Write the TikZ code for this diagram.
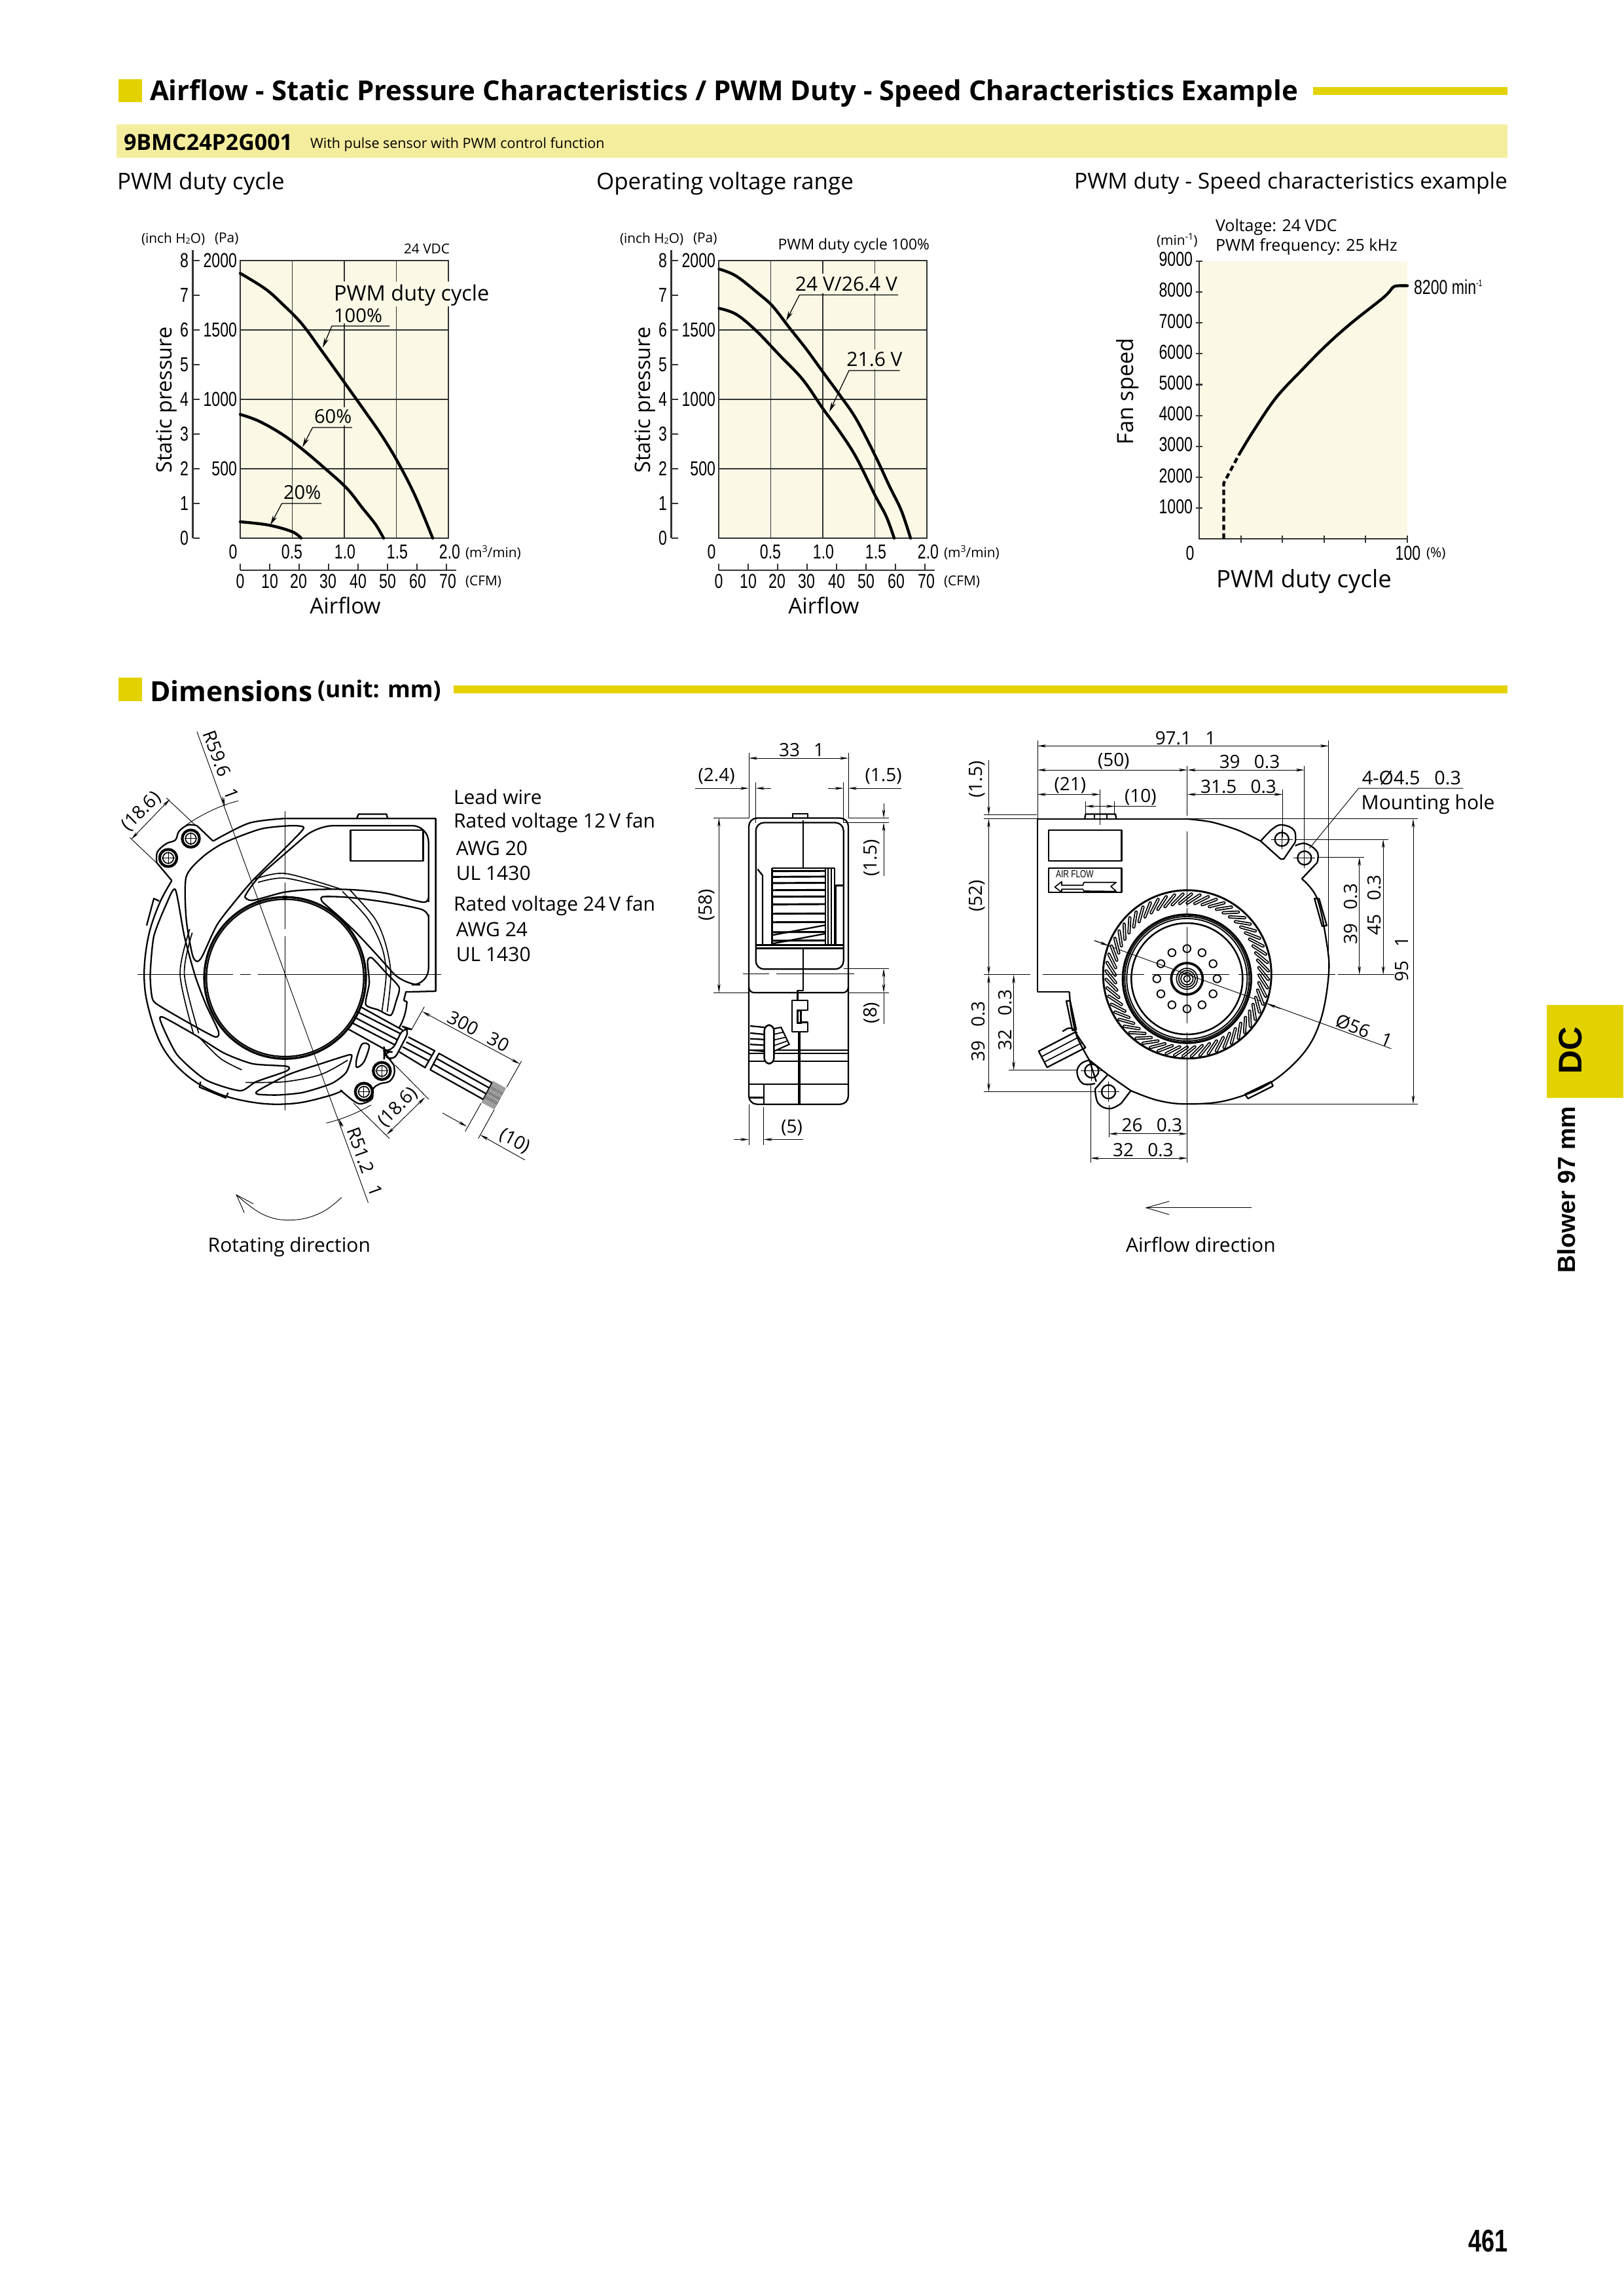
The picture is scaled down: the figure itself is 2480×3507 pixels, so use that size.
\documentclass[tikz,border=0pt]{standalone}
\usepackage{fontspec}
\usepackage{graphicx}
\usetikzlibrary{arrows.meta}
\setmainfont{Open Sans}
\newfontfamily\cond[FakeStretch=0.75]{Liberation Sans}
\newfontfamily\hb{Liberation Sans}
\definecolor{yel}{HTML}{E3D200}
\definecolor{band}{HTML}{F5ED9E}
\definecolor{cream}{HTML}{FBF9E6}
\definecolor{grid}{HTML}{333333}
\newcounter{tn}
\newcommand\lb[3][]{\stepcounter{tn}\node[txt,#1] (t\arabic{tn}) at (#2) {#3};}
\newcommand\sz[1]{\fontsize{#1}{#1}\selectfont}
\newcommand\up[1]{\raisebox{0.7ex}{\sz{3.4}#1}}
\newcommand\dn[1]{\raisebox{-0.1ex}{\sz{3}#1}}
\tikzset{
 txt/.style={inner sep=0pt,outer sep=0pt},
 num/.style={font=\cond\sz{7.4}},
 small/.style={font=\sz{5}},
 lab/.style={font=\sz{7.8}},
 pct/.style={font=\sz{7}},
 dimt/.style={font=\sz{6.7},xshift=.3pt,yshift=-.4pt},
 note/.style={font=\sz{7.2}},
 sub/.style={font=\sz{8.4},anchor=west},
 gridl/.style={draw=grid,line width=0.3pt},
 axisl/.style={draw=grid,line width=0.5pt},
 crv/.style={line width=1.05pt,line cap=round},
 ldr/.style={line width=0.3pt,-{Stealth[length=3.6pt,width=1.7pt]}},
 dl/.style={line width=0.22pt,{Stealth[length=3.2pt,width=1.1pt]}-{Stealth[length=3.2pt,width=1.1pt]}},
 dr/.style={line width=0.22pt,-{Stealth[length=3.2pt,width=1.1pt]}},
 ex/.style={line width=0.22pt},
 ol/.style={line width=0.55pt,line join=round},
 olt/.style={line width=0.4pt,line join=round},
 olb/.style={line width=0.8pt,line join=round},
 cl/.style={line width=0.22pt},
}
\newcommand\pqchart{%
 \fill[cream] (367,398) rectangle (685,822);
 \foreach \xx in {446.5,526,605.5}{\draw[gridl] (\xx,398) -- (\xx,822);}
 \foreach \yy in {504,610,716}{\draw[gridl] (367,\yy) -- (685,\yy);}
 \draw[axisl] (367,398) rectangle (685,822);
 \draw[axisl] (294.5,382) -- (294.5,822);
 \foreach \i in {0,...,8}{\draw[axisl] (294.5,{822-53*\i}) -- (304.5,{822-53*\i});
   \lb[num,anchor=east]{288,{822-53*\i}}{\i}}
 \lb[num,anchor=east]{362,398}{2000}
 \lb[num,anchor=east]{362,504}{1500}
 \lb[num,anchor=east]{362,610}{1000}
 \lb[num,anchor=east]{362,716}{500}
 \lb[lab,rotate=90]{254,611}{Static pressure}
 \lb[small,anchor=west]{216,365}{(inch H\dn{2}O)}
 \lb[small,anchor=west]{328,365}{(Pa)}
 \lb[num]{356,843}{0}\lb[num]{446,843}{0.5}\lb[num]{527,843}{1.0}\lb[num]{607,843}{1.5}\lb[num]{687,843}{2.0}
 \lb[small,anchor=west]{711,844}{(m\up{3}/min)}
 \draw[axisl] (367,871) -- (697,871);
 \foreach \i/\l/\c in {0/0/367,1/10/412,2/20/456,3/30/501,4/40/547,5/50/592,6/60/638,7/70/684}{
   \draw[axisl] ({367+45*\i},871) -- ({367+45*\i},861);
   \lb[num]{\c,888}{\l}}
 \lb[small,anchor=west]{711,889}{(CFM)}
 \lb[font=\sz{8}]{527.5,925}{Airflow}
}
\begin{document}
\begin{tikzpicture}[x=0.24pt,y=-0.24pt]
\useasboundingbox (0,0) rectangle (2480,3507);
\fill[white] (0,0) rectangle (2480,3507);
% headings
\fill[yel] (181,121) rectangle (217,156);
\lb[anchor=west,font=\bfseries]{229,143}{\resizebox{421pt}{!}{Airflow - Static Pressure Characteristics / PWM Duty - Speed Characteristics Example}}
\fill[yel] (2006,133) rectangle (2303,145);
\fill[band] (178,190) rectangle (2303,241);
\lb[anchor=west,font=\bfseries\sz{8.15}]{189,217}{9BMC24P2G001}
\lb[anchor=west,font=\sz{5.15}]{474,221}{With pulse sensor with PWM control function}
\lb[sub]{179,280}{PWM duty cycle}
\lb[sub]{911,280}{Operating voltage range}
\lb[sub,font=\sz{8.07},anchor=east]{2303,280}{PWM duty - Speed characteristics example}
% chart 1
\pqchart
\fill[cream] (508,430) rectangle (687,468);
\fill[cream] (508,468) rectangle (586,494);
\fill[cream] (482,622) rectangle (536,650);
\lb[small,anchor=east]{687,380}{24 VDC}
\lb[lab,anchor=west]{510,451}{PWM duty cycle}
\lb[pct,anchor=west]{510,482}{100\%}
\lb[pct,anchor=west]{480,636}{60\%}
\lb[pct,anchor=west]{433,752}{20\%}
\draw[crv] plot[smooth,tension=.6] coordinates {(367,417.5)(405,441)(430.6,463.6)(461,494.5)(492,536.6)(526,584)(558,629)(583.7,666)(609,708)(634.7,758.5)(661,822)};
\draw[crv] plot[smooth,tension=.6] coordinates {(367,633)(395,643)(430.6,663)(461,685.5)(497,716)(530,746)(553,775)(573.5,800.7)(586,822)};
\draw[crv] plot[smooth,tension=.6] coordinates {(367,797)(410,802)(446,812)(460,822)};
\draw[ldr] (595,498) -- (507,498) -- (493,531);
\draw[ldr] (538,653) -- (477.5,653) -- (462,683);
\draw[ldr] (491,769) -- (430.6,769) -- (413,802);
% chart 2
\begin{scope}[shift={(731,0)}]
\pqchart
\end{scope}
\lb[font=\sz{5.5},anchor=east]{1420,376}{PWM duty cycle 100\%}
\fill[cream] (1216,418) rectangle (1370,448);
\fill[cream] (1293,534) rectangle (1380,564);
\lb[font=\sz{7.2}]{1293,434}{24 V/26.4 V}
\lb[font=\sz{7.2}]{1336,549}{21.6 V}
\draw[crv] plot[smooth,tension=.6] coordinates {(1098.5,411)(1124.5,421.6)(1160,449.5)(1180.6,468)(1206,500.7)(1231.6,533)(1257,568)(1282.6,603)(1308,640)(1337,696)(1359,743)(1377,780)(1391,822)};
\draw[crv] plot[smooth,tension=.6] coordinates {(1098.5,471)(1124.5,480)(1155,505)(1191,542.6)(1226.5,580)(1257,624)(1282.6,659)(1308,698.6)(1337,757)(1354,789)(1366,822)};
\draw[ldr] (1372,450.4) -- (1221.4,450.4) -- (1201,490);
\draw[ldr] (1374.5,566) -- (1297,566) -- (1267,629);
% chart 3
\fill[cream] (1832,398.7) rectangle (2150,822);
\draw[axisl] (1832,398.7) -- (1832,823) -- (2150,823);
\foreach \i/\l in {0/9000,1/8000,2/7000,3/6000,4/5000,5/4000,6/3000,7/2000,8/1000}{
  \draw[axisl] (1827,{398.7+47.2*\i}) -- (1837,{398.7+47.2*\i});
  \lb[num,anchor=east]{1822,{396+47.2*\i}}{\l}}
\foreach \xx in {1896,1959,2023,2086,2150}{\draw[axisl] (\xx,818) -- (\xx,829);}
\lb[small,anchor=west]{1767,367}{(min\up{-1})}
\lb[font=\sz{6},anchor=west]{1857,347}{Voltage: 24 VDC}
\lb[font=\sz{6},anchor=west]{1857,377}{PWM frequency: 25 kHz}
\lb[font=\sz{8.2},rotate=90]{1723,598}{Fan speed}
\lb[num]{1818,845}{0}\lb[num]{2151,845}{100}
\lb[small,anchor=west]{2179,846}{(\%)}
\lb[font=\sz{8.8}]{1992,888}{PWM duty cycle}
\lb[num,anchor=west]{2160,438}{8200 min\up{-1}}
\draw[crv] plot[smooth,tension=.6] coordinates {(1893,694)(1915,658)(1949,608)(1988,566)(2026.6,527)(2065,493)(2114,454)(2128,439)(2136,436.5)(2150,436.5)};
\draw[crv,line cap=butt,dash pattern=on 2pt off 1.2pt] (1869.5,823) -- (1869.5,738) -- (1893,694);
% dimensions header
\fill[yel] (181,1035) rectangle (217,1071);
\lb[anchor=west,font=\bfseries\sz{10.2}]{229,1056}{Dimensions}
\lb[anchor=west,font=\bfseries\sz{8.5}]{485,1055}{(unit: mm)}
\fill[yel] (693,1047) rectangle (2303,1059);
% side tab
\fill[yel] (2363,1535) rectangle (2480,1677);
\lb[font=\hb\bfseries\sz{12},rotate=90]{2399,1604}{DC}
\lb[font=\hb\bfseries\sz{9},rotate=90]{2393,1817}{Blower 97 mm}
\lb[font=\cond\bfseries\sz{11.5},anchor=east]{2303,3423}{461}

% ---------- left view ----------
\begin{scope}[shift={(150,1090)},x=0.13165pt,y=-0.13165pt]
 \draw[ol] (520,292) -- (940,292) -- (940,773) -- (857,775) -- (851,799);
 \draw[ol] (860,802) .. controls (858,830) and (850,855) .. (838,875);
 \draw[ol] (851,799) -- (860,802);
 \draw[ol] plot[smooth,tension=.5] coordinates {(520,292)(420,305)(320,355)};
 \draw[ol] (320,355) -- (275,312);
 \draw[ol] plot[smooth,tension=.6] coordinates {(275,312)(250,310)(225,328)(215,352)(190,362)(165,385)(163,415)};
 \draw[ol] (163,415) -- (205,465);
 \draw[ol] plot[smooth,tension=.6] coordinates {(205,465)(170,530)(140,620)(128,726)(140,820)(180,930)(250,1010)(340,1060)(450,1085)(550,1085)(640,1065)(680,1050)};
 % tabs
 \draw[ol] (720,292) -- (725,280) -- (803,280) -- (806,292);
 \draw[ol] (135,590) -- (155,515) -- (170,522);
 \draw[ol] (285,1025) -- (282,1040) -- (355,1070) -- (362,1056);
 % windows
 \draw[ol] plot[smooth cycle,tension=.45] coordinates {(245,455)(290,400)(350,360)(450,322)(520,313)(560,313)(570,323)(500,395)(430,465)(375,530)(330,590)(290,675)(275,690)(262,670)(245,570)};
 \draw[ol,rounded corners=6pt] (408,510) -- (430,468) -- (610,312) -- (920,312) -- (920,525);
 \draw[ol] plot[smooth,tension=.5] coordinates {(920,510)(905,525)(800,500)(700,490)(600,490)(520,497)(430,520)(408,510)};
 \draw[ol] (703,325) rectangle (905,410);
 \draw[ol,rounded corners=6pt] (920,560) -- (920,755) -- (850,755) -- (775,670) -- (700,590) -- (625,525);
 \draw[ol] plot[smooth,tension=.5] coordinates {(625,525)(625,510)(700,512)(800,525)(900,545)(920,565)};
 \draw[ol] plot[smooth cycle,tension=.4] coordinates {(750,690)(762,680)(800,720)(838,762)(830,800)(815,840)(780,825)(745,810)(755,750)};
 \draw[ol] plot[smooth cycle,tension=.4] coordinates {(215,490)(240,620)(270,730)(300,810)(335,885)(325,900)(250,860)(165,810)(150,790)(145,726)(155,620)(190,530)};
 \draw[ol] plot[smooth cycle,tension=.4] coordinates {(180,845)(270,895)(350,945)(430,975)(525,982)(525,995)(440,1025)(395,1050)(300,1020)(220,950)(175,860)};
 \draw[ol] plot[smooth cycle,tension=.4] coordinates {(445,1050)(530,1005)(620,975)(700,950)(705,960)(690,1000)(650,1030)(570,1055)(500,1062)(445,1060)};
 \draw[ol] plot[smooth cycle,tension=.5] coordinates {(735,920)(755,925)(740,970)(720,985)(720,960)};
 % inner ring arcs
 \draw[olt] plot[smooth,tension=.5] coordinates {(430,463)(520,445)(680,490)};
 \draw[olt] plot[smooth,tension=.5] coordinates {(445,470)(520,458)(650,488)};
 \draw[olt] plot[smooth,tension=.5] coordinates {(700,490)(770,570)(800,640)(815,725)(805,830)};
 \draw[olt] plot[smooth,tension=.5] coordinates {(680,495)(750,570)(790,650)(802,725)(790,830)};
 \draw[olt] plot[smooth,tension=.5] coordinates {(255,600)(228,726)(265,890)};
 \draw[olt] plot[smooth,tension=.5] coordinates {(262,610)(240,726)(280,890)};
 \draw[olt] plot[smooth,tension=.5] coordinates {(280,900)(340,960)(400,992)};
 \draw[olt] plot[smooth,tension=.5] coordinates {(410,1027)(520,1025)(620,1005)(695,965)};
 % hub
 \draw[olb] (520.5,736) circle [radius=225];
 \draw[ol] (520.5,736) circle [radius=219];
 \draw[olt] (516,508) rectangle (524,515);
 % holes
 \foreach \hx/\hy in {258/348,195/402,790/995,740/1053}{
   \draw[olb,line width=1pt] (\hx,\hy) circle [radius=24];
   \draw[olt] (\hx,\hy) circle [radius=15];
   \draw[cl] (\hx-18,\hy) -- (\hx+18,\hy) (\hx,\hy-18) -- (\hx,\hy+18);}
 % centre lines
 \draw[cl] (110,726) -- (375,726) (395,726) -- (425,726) (445,726) -- (955,726);
 \draw[cl] (520,272) -- (520,450) (520,470) -- (520,505) (520,520) -- (520,600) (520,620) -- (520,1105);
 % dims
 \draw[ex] (275,50) -- (752,1362);
 \draw[ex] (245,310) .. controls (290,280) and (340,255) .. (390,243);
 \draw[ex] (635,1140) .. controls (680,1130) and (725,1110) .. (760,1090);
 \draw[dr] (346,232) -- (353,258);
 \draw[dr] (680,1150) -- (670,1128);
 \draw[ex] (165,418) -- (88,345) (270,310) -- (190,235);
 \draw[dl] (92,350) -- (200,238);
 \lb[dimt,rotate=45]{118,270}{(18.6)}
 \lb[dimt,rotate=-70]{340,140}{R59.6\enspace\ 1}
 \lb[dimt,rotate=-70]{740,1245}{R51.2\enspace\ 1}
 \lb[note,anchor=west]{990,232}{Lead wire}
 \lb[note,anchor=west]{990,304}{Rated voltage 12\,V fan}
 \lb[note,anchor=west]{997,375}{AWG 20}
 \lb[note,anchor=west]{997,445}{UL 1430}
 \lb[note,anchor=west]{990,535}{Rated voltage 24\,V fan}
 \lb[note,anchor=west]{997,602}{AWG 24}
 \lb[note,anchor=west]{997,670}{UL 1430}
 \lb[note]{532,1486}{Rotating direction}
 \draw[ex] plot[smooth,tension=.7] coordinates {(678,1347)(620,1390)(540,1410)(460,1395)(385,1340)};
 \draw[ex] (432,1365) -- (385,1340) -- (407,1390);
\end{scope}
% wires, from close-up coordinates
\begin{scope}[shift={(520,1490)},x=0.08pt,y=-0.08pt]
 \draw[ol] (95,145) -- (285,250) (75,165) -- (278,268) (62,190) -- (262,295) (50,215) -- (250,318) (35,245) -- (228,352);
 \draw[ol,rounded corners=3pt] (290,235) -- (320,245) -- (242,395) -- (200,365) -- (200,345) -- (235,350) -- cycle;
 \draw[ol] (200,350) -- (245,410);
 \draw[ol] plot[smooth,tension=.6] coordinates {(245,410)(247,450)(225,485)(180,497)(150,520)(145,565)(100,587)(65,578)(0,525)};
 \draw[ol] (312,282) -- (432,345) -- (388,422) -- (270,350);
 \draw[ol] (302,305) -- (420,367) (285,327) -- (407,392);
 \draw[ol] (452,357) -- (695,492) -- (655,568) -- (412,432) -- cycle;
 \draw[ol] (440,380) -- (682,515) (427,407) -- (668,542);
 \foreach \sx/\sy/\ex/\ey in {692/500/750/532,680/522/738/555,668/545/728/578,656/566/716/598}{
   \draw[line width=3pt,draw=black!65,dash pattern=on 0.25pt off 0.25pt] (\sx,\sy) -- (\ex,\ey);}
 \draw[ex] (325,250) -- (385,143) (762,512) -- (830,392);
 \draw[dl] (375,165) -- (822,405);
 \lb[dimt,rotate=-28]{630,250}{300\enspace\ 30}
 \draw[ex] (60,585) -- (225,747) (250,410) -- (405,567);
 \draw[dl] (212,730) -- (388,558);
 \lb[dimt,rotate=45]{260,600}{(18.6)}
 \draw[ex] (645,585) -- (572,715) (705,615) -- (632,747);
 \draw[dr] (468,630) -- (580,692);
 \draw[dr] (845,845) -- (640,730);
 \lb[dimt,rotate=-28]{795,755}{(10)}
\end{scope}

% ---------- side view ----------
\begin{scope}[shift={(1020,1090)},x=0.08pt,y=-0.10408pt]
 \draw[ol,rounded corners=3pt] (372,368) rectangle (828,1376);
 \draw[ol,rounded corners=3pt] (404,384) rectangle (806,900);
 \draw[ol,rounded corners=2pt] (372,970) -- (372,983) -- (828,983) -- (828,970);
 \draw[ol] (572,368) -- (572,352) -- (642,352) -- (642,368);
 \draw[ol] (620,375) -- (620,545) (620,825) -- (620,975) -- (595,975) -- (595,1010);
 \draw[ol] (595,1120) -- (605,1120);
 \draw[line width=0.9pt] (603,1120) -- (603,1376);
 \draw[ol] (412,548) -- (435,570) -- (435,815);
 \draw[ol] (806,605) -- (770,605) -- (770,815);
 \draw[ol] (404,815) -- (806,815) (404,827) -- (806,827);
 \draw[ol] (478,545) -- (764,545) -- (764,815);
 \draw[ol] (722,545) -- (722,815) (735,545) -- (735,815) (750,545) -- (750,815);
 \draw[ol] (478,545) -- (478,815);
 \foreach \yy in {555,575,597,622,645,672,705,735,770,800}{
  \draw[line width=0.7pt] (478,\yy) -- (722,\yy-1);}
 \draw[ol] (482,780) -- (722,745) (482,810) -- (722,775);
 % clip
 \draw[ol] (570,1010) -- (642,1010) -- (642,1045) -- (610,1045) -- (610,1087) -- (642,1087) -- (642,1120) -- (570,1120) -- cycle;
 \draw[line width=0.8pt] (595,1045) rectangle (610,1090);
 % cable
 \draw[ol] (372,1185) -- (828,1185) (372,1197) -- (828,1197) (372,1225) -- (828,1225) (372,1305) -- (828,1305);
 \draw[ol] (440,1305) -- (440,1376);
 \draw[line width=0.8pt] (375,1353) -- (440,1353);
 \fill[white,draw=black,line width=0.5pt] (485,1110) -- (520,1105) -- (557,1165) -- (485,1190) -- cycle;
 \draw[olt] (485,1130) -- (530,1122) (485,1150) -- (540,1140) (485,1170) -- (548,1153);
 \draw[ol] (378,1100) -- (443,1105) (378,1125) -- (443,1130) (378,1145) -- (443,1148) (378,1165) -- (443,1168) (378,1185) -- (443,1190);
 \fill[white,draw=black,line width=0.6pt,rounded corners=2pt] (443,1097) rectangle (487,1233);
 \draw[cl] (345,917) -- (465,917) (497,917) -- (855,917);
 % dims
 \draw[ex] (372,138) -- (372,368) (828,138) -- (828,368);
 \draw[dl] (372,157) -- (828,157);
 \lb[dimt]{610,125}{33\enspace\ 1}
 \draw[ex] (404,243) -- (404,384) (806,243) -- (806,384);
 \draw[dr] (127,263) -- (372,263);
 \draw[dr] (473,263) -- (404,263);
 \draw[dr] (735,263) -- (806,263);
 \draw[dr] (1070,263) -- (828,263);
 \lb[dimt]{220,217}{(2.4)}
 \lb[dimt]{985,217}{(1.5)}
 \draw[ex] (828,368) -- (1015,368) (806,384) -- (1015,384);
 \draw[dr] (990,317) -- (990,368);
 \draw[dr] (990,572) -- (990,384);
 \lb[dimt,rotate=90]{930,505}{(1.5)}
 \draw[ex] (806,898) -- (1015,898) (828,983) -- (1015,983);
 \draw[dl] (990,898) -- (990,983);
 \draw[ex] (990,983) -- (990,1093);
 \lb[dimt,rotate=90]{930,1050}{(8)}
 \draw[ex] (210,368) -- (372,368) (210,983) -- (372,983);
 \draw[dl] (235,368) -- (235,983);
 \lb[dimt,rotate=90]{175,670}{(58)}
 \draw[ex] (372,1376) -- (372,1520) (440,1385) -- (440,1520);
 \draw[dr] (303,1500) -- (372,1500);
 \draw[dr] (620,1500) -- (440,1500);
 \lb[dimt]{565,1455}{(5)}
\end{scope}

% ---------- front view ----------
\begin{scope}[shift={(1440,1090)},x=0.14085pt,y=-0.13165pt]
 \draw[ol] (330,775) -- (247,775) -- (247,293) -- (635,293);
 \draw[ol] plot[smooth,tension=.5] coordinates {(635,293)(700,302)(770,325)(828,355)};
 \draw[ol] (828,355) -- (880,405) -- (888,405) -- (918,358);
 \draw[ol] plot[smooth,tension=.7] coordinates {(828,355)(860,320)(885,310)(915,325)(918,358)};
 \draw[ol] plot[smooth,tension=.7] coordinates {(918,368)(945,362)(975,385)(975,415)};
 \draw[ol] (975,415) -- (935,460);
 \draw[ol] plot[smooth,tension=.6] coordinates {(935,460)(975,515)(1000,640)(1005,726)(985,850)(940,945)(850,1030)(740,1077)(635,1087)(560,1077)(490,1050)};
 \draw[ol] (490,1050) -- (465,1085);
 \draw[ol] plot[smooth,tension=.7] coordinates {(465,1085)(435,1100)(405,1085)(397,1045)};
 \draw[ol] (397,1045) -- (430,1005) -- (490,1050);
 \draw[ol] plot[smooth,tension=.7] coordinates {(397,1030)(365,1030)(350,1000)(360,975)(382,965)};
 \draw[ol] (382,965) -- (400,1025) (382,965) -- (430,1005);
 \draw[ol] plot[smooth,tension=.5] coordinates {(330,775)(335,830)(350,900)(382,965)};
 % tabs
 \draw[ol] (370,293) -- (372,280) -- (450,280) -- (452,293);
 \draw[olt] (395,280) -- (395,293) (428,280) -- (428,293);
 \draw[ol] (322,800) -- (332,800) -- (348,880) -- (338,882) -- cycle;
 \draw[ol] (968,515) -- (980,515) -- (1000,590) -- (988,592) -- cycle;
 \draw[ol] (787,1060) -- (855,1025) -- (860,1037) -- (795,1072) -- cycle;
 % wires
 \draw[ol] (250,940) -- (345,887) -- (372,930) -- (272,985) -- cycle;
 \draw[olt] (258,955) -- (352,902) (265,970) -- (362,917);
 \draw[ol,rounded corners=2pt] (312,885) -- (335,870) -- (350,890);
 % labels
 \draw[ol] (276,325) rectangle (466,410);
 \draw[ol] (276,430) rectangle (466,498);
 \lb[font=\cond\sz{3.8}]{344,447}{AIR FLOW}
 \draw[olt] (292,483) -- (310,468) -- (310,478) -- (365,478) -- (368,470) -- (452,470) -- (438,481) -- (452,495) -- (368,494) -- (365,489) -- (310,489) -- (310,497) -- cycle;
 % mount holes
 \foreach \hx/\hy in {883/350,942/402,388/995,432/1053}{
  \draw[ol] (\hx,\hy) ellipse [x radius=18,y radius=19];
  \draw[cl] (\hx-28,\hy) -- (\hx+28,\hy) (\hx,\hy-28) -- (\hx,\hy+28);}
 % dims
 \draw[ex] (247,75) -- (247,293) (1005,75) -- (1005,726);
 \draw[dl] (247,90) -- (1005,90);
 \lb[dimt]{630,65}{97.1\enspace\ 1}
 \draw[dl] (247,157) -- (637,157);
 \lb[dimt]{443,130}{(50)}
 \draw[dl] (637,157) -- (942,157);
 \draw[ex] (942,145) -- (942,425) (637,145) -- (637,275);
 \lb[dimt]{797,132}{39\enspace\ 0.3}
 \draw[dl] (637,225) -- (885,225);
 \draw[ex] (885,212) -- (885,345);
 \lb[dimt]{768,200}{31.5\enspace\ 0.3}
 \draw[dl] (247,225) -- (410,225);
 \draw[ex] (410,212) -- (410,310);
 \lb[dimt]{330,197}{(21)}
 \draw[ex] (372,245) -- (372,282) (448,245) -- (448,282);
 \draw[dl] (372,258) -- (448,258);
 \draw[ex] (448,258) -- (555,258);
 \lb[dimt]{513,230}{(10)}
 % left
 \draw[ex] (107,282) -- (245,282) (107,293) -- (247,293);
 \draw[dr] (120,130) -- (120,282);
 \lb[dimt,rotate=90]{88,180}{(1.5)}
 \draw[dl] (120,293) -- (120,727);
 \lb[dimt,rotate=90]{88,505}{(52)}
 \draw[dl] (120,727) -- (120,1053);
 \draw[ex] (107,1053) -- (400,1053);
 \lb[dimt,rotate=90]{90,882}{39\enspace\ 0.3}
 \draw[dl] (185,727) -- (185,993);
 \draw[ex] (172,993) -- (350,993);
 \lb[dimt,rotate=90]{160,850}{32\enspace\ 0.3}
 % right
 \draw[ex] (640,293) -- (1237,293) (640,1087) -- (1237,1087);
 \draw[dl] (1225,293) -- (1225,1087);
 \lb[dimt,rotate=90]{1193,680}{95\enspace\ 1}
 \draw[ex] (920,350) -- (1160,350);
 \draw[dl] (1147,350) -- (1147,727);
 \lb[dimt,rotate=90]{1122,530}{45\enspace\ 0.3}
 \draw[ex] (975,400) -- (1097,400);
 \draw[dl] (1085,400) -- (1085,727);
 \lb[dimt,rotate=90]{1060,555}{39\enspace\ 0.3}
 % bottom
 \draw[ex] (433,1090) -- (433,1180) (385,1030) -- (385,1250) (637,1100) -- (637,1250);
 \draw[dl] (433,1170) -- (637,1170);
 \lb[dimt]{543,1143}{26\enspace\ 0.3}
 \draw[dl] (385,1238) -- (637,1238);
 \lb[dimt]{520,1212}{32\enspace\ 0.3}
 % leaders
 \draw[ex] (1355,208) -- (1083,208) -- (955,375);
 \lb[dimt,anchor=west,font=\sz{6.9}]{1090,176}{4-Ø4.5\enspace\ 0.3}
 \lb[note,anchor=west]{1090,252}{Mounting hole}
 \draw[ex] (395,632) -- (1168,933);
 \draw[dr] (395,632) -- (432,646);
 \draw[dr] (880,822) -- (845,808);
 \lb[dimt,rotate=-22]{1095,880}{Ø56\enspace\ 1}
 \draw[ex] (805,1376) -- (530,1376);
 \draw[ex] (590,1358) -- (530,1376) -- (590,1395);
 \lb[note]{672,1478}{Airflow direction}
\end{scope}
% impeller
\begin{scope}[shift={(1813.7,1489.5)}]
 \foreach \a in {0,6,...,354}{
   \draw[line width=1.2pt,line cap=round] (\a:110) -- (\a+9:124);}
 \foreach \a in {0,6,...,354}{
   \draw[white,line width=0.35pt,line cap=round] (\a:110) -- (\a+9:124);}
 \draw[line width=0.7pt] (0,-1.2) circle [radius=128.5];
\end{scope}
\begin{scope}[shift={(1813.3,1495)}]
 \draw[line width=0.8pt] (0,0) circle [radius=98];
 \draw[line width=0.45pt] (0,0) circle [radius=95];
 \draw[line width=0.45pt] (0,0) circle [radius=92];
 \draw[line width=0.6pt] (0,0) circle [radius=85];
 \draw[line width=0.9pt] (0,0) circle [radius=24];
 \foreach \r in {16,12.7,9.3,5}{\draw[line width=0.4pt] (0,0) circle [radius=\r];}
 \foreach \a in {0,30,...,330}{\draw[line width=0.45pt] (\a:46) circle [radius=5.8];}
\end{scope}
% centre lines of the front view
\draw[cl] (1503,1488.3) -- (1574,1488.3) (1593,1488.3) -- (1748,1488.3) (1760,1488.3) -- (1878,1488.3) (1892,1488.3) -- (1908,1488.3) (1920,1488.3) -- (2040,1488.3) (2044,1488.3) -- (2130,1488.3);
\draw[cl] (1813.7,1238) -- (1813.7,1246) (1813.7,1270) -- (1813.7,1385) (1813.7,1387) -- (1813.7,1397) (1813.7,1416) -- (1813.7,1563) (1813.7,1577) -- (1813.7,1693);
\end{tikzpicture}
\end{document}
